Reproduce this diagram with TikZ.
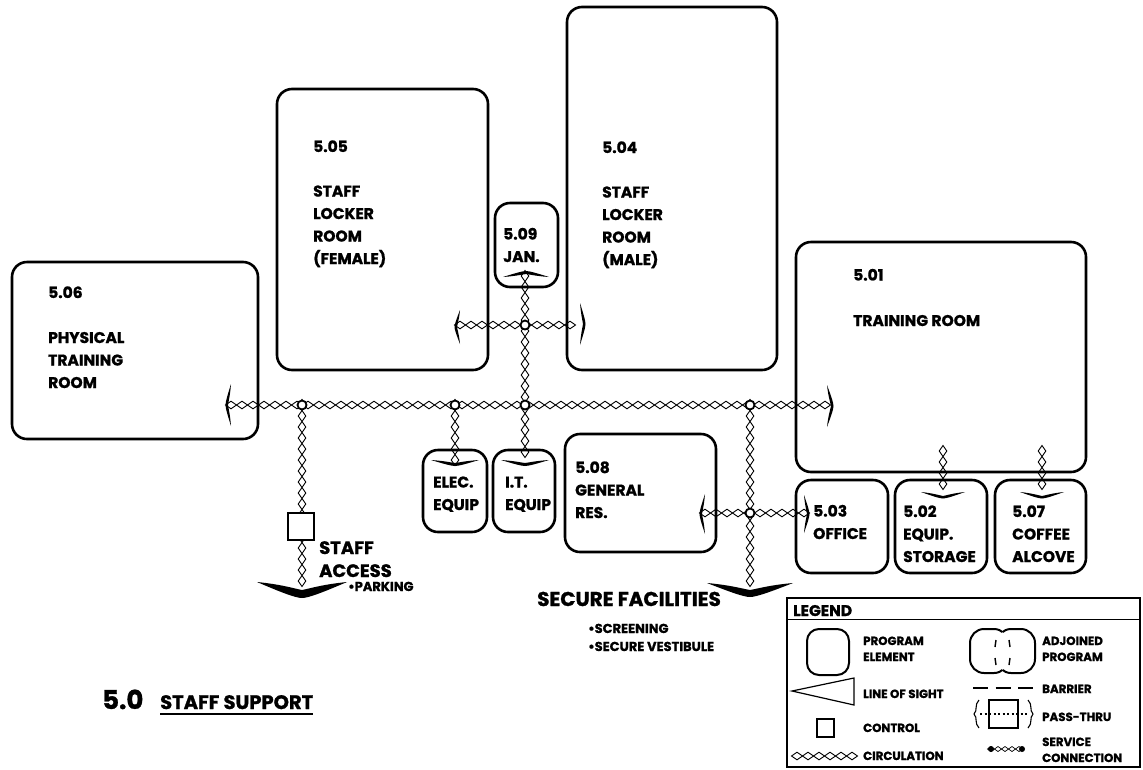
\documentclass[tikz,border=0pt]{standalone}
\usepackage{fontspec}
\setmainfont{Poppins}[BoldFeatures={FakeBold=1.2}]
\usetikzlibrary{decorations.markings}
\newcommand\RoomFont{\fontsize{15.5}{22.5}\selectfont\bfseries}
\newcommand\LegFont{\fontsize{11.8}{16}\selectfont\bfseries}
\newcommand\chev[6]{%
  \fill[shift={(#1,#2)}, rotate=#3]
    (-#4pt,0) .. controls (-0.45*#4pt,-0.3*#5pt) and (-0.15*#4pt,-0.85*#5pt) .. (0,-#5pt)
    .. controls (0.15*#4pt,-0.85*#5pt) and (0.45*#4pt,-0.3*#5pt) .. (#4pt,0)
    .. controls (0.5*#4pt,-0.6*#5pt-0.6*#6pt) and (0.15*#4pt,-#5pt-#6pt) .. (0,-#5pt-#6pt)
    .. controls (-0.15*#4pt,-#5pt-#6pt) and (-0.5*#4pt,-0.6*#5pt-0.6*#6pt) .. cycle;}
\tikzset{
  room/.style={draw, line width=2.6pt, rounded corners=15pt, inner sep=0pt},
  lbl/.style={anchor=base west, inner sep=0pt, align=left, font=\RoomFont},
  leg/.style={anchor=base west, inner sep=0pt, align=left, font=\LegFont},
  circ/.style={postaction={decorate}, decoration={markings, mark=between positions 0 and 1 step 11pt with {\draw[line width=0.9pt] (-5.5pt,0)--(0,3.8pt)--(5.5pt,0)--(0,-3.8pt)--cycle;}}},
  circs/.style={postaction={decorate}, decoration={markings, mark=between positions 0 and 1 step 7pt with {\draw[line width=0.7pt] (-3.5pt,0)--(0,2.5pt)--(3.5pt,0)--(0,-2.5pt)--cycle;}}},
  junc/.style={circle, draw, line width=1.8pt, fill=white, minimum size=9pt, inner sep=0pt},
  ctrl/.style={draw, line width=2.6pt, fill=white, inner sep=0pt},
}
\begin{document}
\begin{tikzpicture}[x=1pt,y=-1pt]
\useasboundingbox (0,0) rectangle (1143,769);
% rooms
\node[room, minimum width=246pt, minimum height=177pt] (r506) at (135,350.5) {};
\node[room, minimum width=211pt, minimum height=281pt] (r505) at (382.5,229.5) {};
\node[room, minimum width=63pt, minimum height=84pt] (r509) at (526.5,245) {};
\node[room, minimum width=210pt, minimum height=363pt] (r504) at (672,188.5) {};
\node[room, minimum width=290pt, minimum height=230pt] (r501) at (941,357) {};
\node[room, minimum width=64pt, minimum height=82pt] (relec) at (455,491) {};
\node[room, minimum width=62pt, minimum height=82pt] (rit) at (524,491) {};
\node[room, minimum width=151pt, minimum height=118pt] (r508) at (640.5,493) {};
\node[room, minimum width=92pt, minimum height=93pt] (r503) at (842,526.5) {};
\node[room, minimum width=92pt, minimum height=93pt] (r502) at (941,526.5) {};
\node[room, minimum width=91pt, minimum height=93pt] (r507) at (1040.5,526.5) {};
% circulation coordinates
\coordinate (J1) at (302,405);
\coordinate (J2) at (455,405);
\coordinate (J3) at (525,405);
\coordinate (J4) at (750,405);
\coordinate (J5) at (525,325);
\coordinate (J6) at (750,513);
\coordinate (e506) at (231,405);
\coordinate (e501) at (826,405);
\coordinate (eacc) at (302,582);
\coordinate (eelec) at (455,461);
\coordinate (eit) at (525,461);
\coordinate (ejan) at (525,276);
\coordinate (e505) at (460,325);
\coordinate (e504) at (580,325);
\coordinate (esec) at (750,584);
\coordinate (e508) at (705,513);
\coordinate (e503) at (804,513);
\coordinate (s502a) at (943,451);
\coordinate (s502b) at (943,493);
\coordinate (s507a) at (1042,451);
\coordinate (s507b) at (1042,493);
\path[circ] (e506) -- (e501);
\path[circ] (J1) -- (eacc);
\path[circ] (J2) -- (eelec);
\path[circ] (ejan) -- (eit);
\path[circ] (e505) -- (e504);
\path[circ] (J4) -- (esec);
\path[circ] (e508) -- (e503);
\path[circ] (s502a) -- (s502b);
\path[circ] (s507a) -- (s507b);
\foreach \j in {1,...,6} {\node[junc] (j\j) at (J\j) {};}
% control
\node[ctrl, minimum width=26pt, minimum height=27pt] (ctl) at (301,526.5) {};
% chevrons
\chev{302}{582}{0}{45}{8}{8}
\chev{750}{583}{0}{43}{7}{7}
\chev{455}{460}{0}{24}{3}{3}
\chev{525}{460}{0}{24}{3}{3}
\chev{943}{492}{0}{22}{4}{2.5}
\chev{1042}{492}{0}{22}{4}{2.5}
\chev{526}{277}{180}{23}{3}{3}
\chev{231}{405}{-90}{21}{3}{2.5}
\chev{460}{327}{-90}{17}{3}{2.5}
\chev{580}{324}{90}{21}{3}{2.5}
\chev{827}{406}{90}{21}{4}{2.5}
\chev{705}{514}{-90}{20}{3}{2.5}
\chev{804}{514}{90}{19}{3}{2.5}
% room labels (anchored at the baseline of the last line)
\node[lbl] (t506) at (48,388) {5.06\\[22.5pt]PHYSICAL\\TRAINING\\ROOM};
\node[lbl] (t505) at (313,264) {5.05\\[22pt]STAFF\\LOCKER\\ROOM\\(FEMALE)};
\node[lbl] (t504) at (602,265) {5.04\\[22pt]STAFF\\LOCKER\\ROOM\\(MALE)};
\node[lbl] (t509) at (503,262) {5.09\\JAN.};
\node[lbl] (t501) at (853,326) {5.01\\[23pt]TRAINING ROOM};
\node[lbl] (telec) at (433,510) {ELEC.\\EQUIP};
\node[lbl] (tit) at (505,510) {I.T.\\EQUIP};
\node[lbl] (t508) at (575,518) {5.08\\GENERAL\\RES.};
\node[lbl] (t503) at (813,539) {5.03\\OFFICE};
\node[lbl] (t502) at (903,562) {5.02\\EQUIP.\\STORAGE};
\node[lbl] (t507) at (1012,562) {5.07\\COFFEE\\ALCOVE};
% access labels
\node[anchor=base west, inner sep=0pt, align=left, font=\fontsize{18}{23}\selectfont\bfseries] (tacc) at (319,577) {STAFF\\ACCESS};
\node[anchor=base west, inner sep=0pt, font=\fontsize{13}{15}\selectfont\bfseries] (tpark) at (348,591) {•PARKING};
\node[anchor=base west, inner sep=0pt, font=\fontsize{20}{24}\selectfont\bfseries] (tsec) at (537,606) {SECURE FACILITIES};
\node[anchor=base west, inner sep=0pt, align=left, font=\fontsize{13}{18}\selectfont\bfseries] (tscr) at (588,651) {•SCREENING\\•SECURE VESTIBULE};
% title
\node[anchor=base west, inner sep=0pt, font=\fontsize{26}{30}\selectfont\bfseries] (t50) at (102,709) {5.0};
\node[anchor=base west, inner sep=0pt, font=\fontsize{19.5}{22}\selectfont\bfseries] (tss) at (160,709) {STAFF SUPPORT};
\draw[line width=1.4pt] ([yshift=-5pt]tss.base west) -- ([yshift=-5pt]tss.base east);
% legend
\draw[line width=1.8pt] (787,598) rectangle (1140,767);
\draw[line width=0.8pt] (787,619) -- (1140,619);
\node[anchor=base west, inner sep=0pt, font=\fontsize{15.5}{17}\selectfont\bfseries] (tleg) at (793,616) {LEGEND};
\draw[line width=2pt, rounded corners=12pt] (807,629) rectangle (849,675);
\node[leg] (lpe) at (863,661) {PROGRAM\\ELEMENT};
\begin{scope}[even odd rule, rounded corners=14pt]
  \clip (960,620) rectangle (1045,682) (997,629) rectangle (1035,673);
  \draw[line width=2pt] (970,629) rectangle (1008,673);
\end{scope}
\begin{scope}[even odd rule, rounded corners=14pt]
  \clip (960,620) rectangle (1045,682) (970,629) rectangle (1008,673);
  \draw[line width=2pt] (997,629) rectangle (1035,673);
\end{scope}
\draw[line width=1.4pt] (996,640) -- (995,647) (995,658) -- (996,665) (1009,640) -- (1010,647) (1010,658) -- (1009,665);
\node[leg] (lap) at (1042,661) {ADJOINED\\PROGRAM};
\draw[line width=1.2pt] (792,691) -- (854,678) -- (854,705) -- cycle;
\node[leg] (lls) at (863,698) {LINE OF SIGHT};
\draw[line width=1.2pt, dash pattern=on 15pt off 7.5pt] (973,688) -- (1033,688);
\node[leg] (lba) at (1042,693) {BARRIER};
\draw[line width=2pt] (989,700) rectangle (1018,728);
\draw[line width=1.2pt, dash pattern=on 2pt off 2.5pt] (980,714) -- (1027,714);
\draw[line width=1.1pt] (979,700) .. controls (974,705) and (978,710) .. (974,714) .. controls (978,718) and (974,723) .. (979,728);
\draw[line width=1.1pt] (1028,700) .. controls (1033,705) and (1029,710) .. (1033,714) .. controls (1029,718) and (1033,723) .. (1028,728);
\node[leg] (lpt) at (1042,721) {PASS-THRU};
\draw[line width=2pt] (817,719) rectangle (834,737);
\node[leg] (lct) at (863,732) {CONTROL};
\coordinate (lc0) at (797,756);
\coordinate (lc1) at (853,756);
\path[circ] (lc0) -- (lc1);
\node[leg] (lci) at (863,760) {CIRCULATION};
\coordinate (ls0) at (991,749);
\coordinate (ls1) at (1022,749);
\path[circs] (ls0) -- (ls1);
\fill (ls0) circle (3pt) (ls1) circle (3pt);
\node[leg] (lsc) at (1042,762) {SERVICE\\CONNECTION};
\end{tikzpicture}
\end{document}
